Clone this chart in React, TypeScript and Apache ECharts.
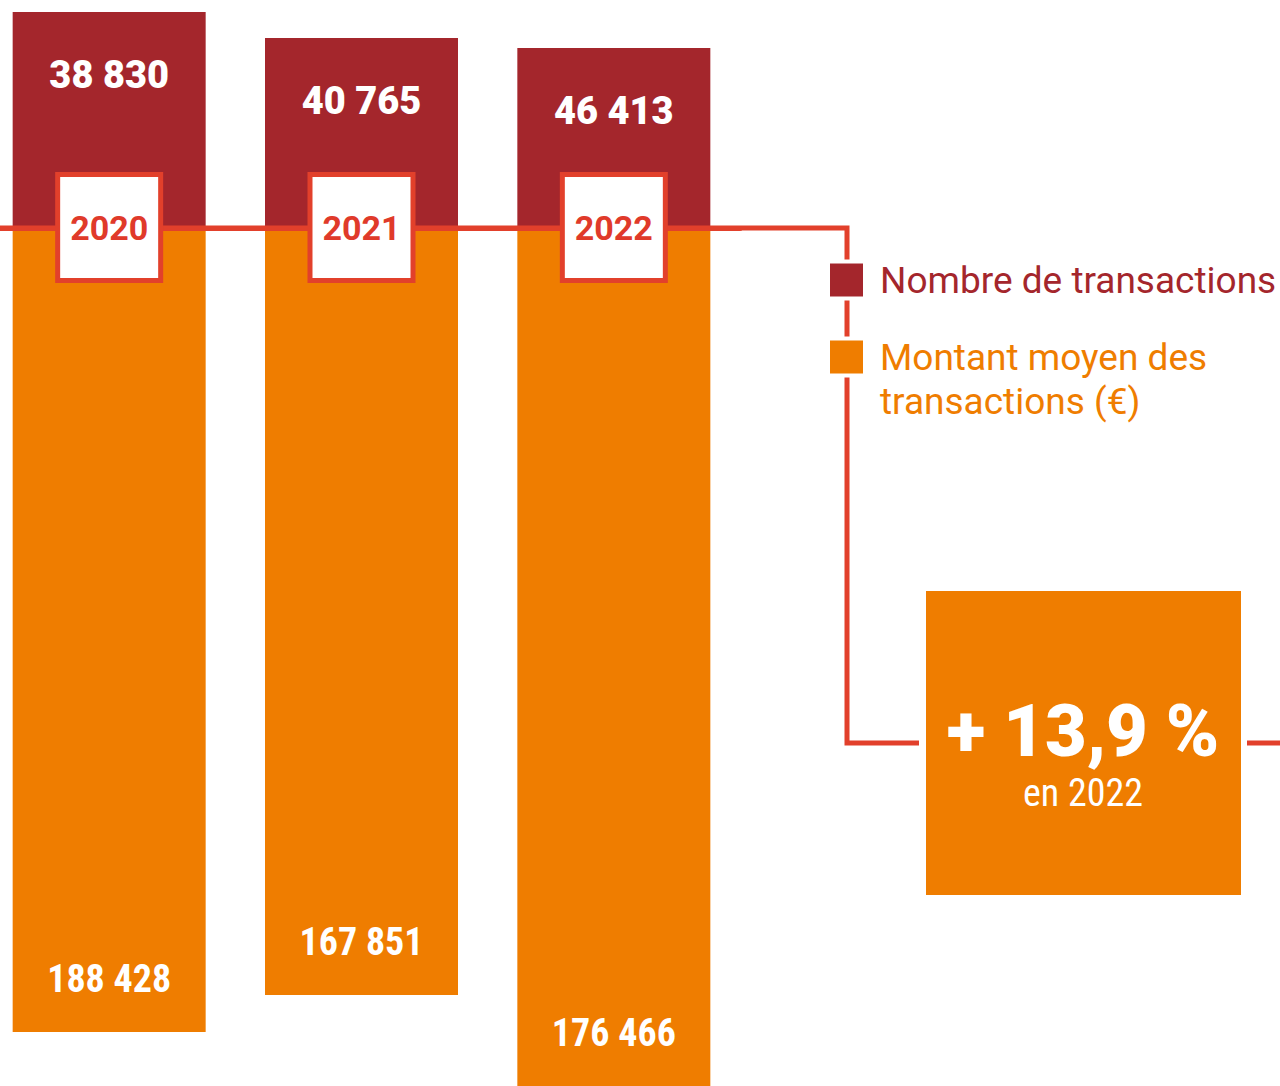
import React, { useEffect, useRef } from "react";
import * as echarts from "echarts";

// Years (categories)
const years = ["2020", "2021", "2022"];
// Values printed on the bars
const transactionCounts = [38830, 40765, 46413];
const averageAmounts = [188428, 167851, 176466];
// Visual bar lengths as drawn in the infographic (arbitrary units, upward / downward)
const countBarLength = [216, 190, 180];
const amountBarLength = [-804, -767, -862];
// Series names (legend)
const countName = "Nombre de transactions";
const amountName = "Montant moyen des transactions (€)";
// Highlight callout
const highlightValue = "+ 13,9 %";
const highlightCaption = "en 2022";

const DARK_RED = "#a4262c";
const ORANGE = "#ef7d00";
const LINE_RED = "#e2402b";
const CONDENSED = "'Roboto Condensed', Roboto";

const fmt = (v: number) => String(v).replace(/\B(?=(\d{3})+(?!\d))/g, " ");

export default function App() {
  const ref = useRef<HTMLDivElement>(null);
  useEffect(() => {
    if (!ref.current) return;
    const chart = echarts.init(ref.current, null, { renderer: "svg" });
    const legendText = { fontFamily: "Roboto", fontSize: 37, lineHeight: 44 };
    chart.setOption({
      animation: false,
      grid: [
        { left: -17, top: 0, width: 757, height: 228, outerBoundsMode: "none", containLabel: false },
        { left: -17, top: 228, width: 757, height: 858, outerBoundsMode: "none", containLabel: false },
      ],
      xAxis: [
        {
          type: "category",
          gridIndex: 0,
          data: years,
          z: 10,
          axisLine: { show: true, lineStyle: { color: LINE_RED, width: 5 } },
          axisTick: { show: false },
          splitLine: { show: false },
          axisLabel: {
            interval: 0,
            margin: -51,
            color: "#e03a2a",
            fontSize: 34,
            fontWeight: "bold",
            fontFamily: "Roboto",
            backgroundColor: "#fff",
            borderColor: LINE_RED,
            borderWidth: 5,
            width: 98,
            height: 101,
            lineHeight: 101,
            align: "center",
          },
        },
        { type: "category", gridIndex: 1, data: years, show: false },
      ],
      yAxis: [
        { type: "value", gridIndex: 0, min: 0, max: 228, show: false },
        { type: "value", gridIndex: 1, min: -858, max: 0, show: false },
      ],
      legend: {
        orient: "vertical",
        left: 826,
        top: 258,
        padding: 0,
        z: 8,
        selectedMode: false,
        itemWidth: 37,
        itemHeight: 37,
        itemGap: -11,
        icon: "rect",
        itemStyle: { borderColor: "#fff", borderWidth: 4 },
        textStyle: {
          ...legendText,
          rich: {
            s: { width: 10, lineHeight: 44, fontSize: 37 },
            n: { ...legendText, color: DARK_RED },
            m: { ...legendText, color: ORANGE },
          },
        },
        data: [{ name: countName }, { name: amountName }],
        formatter: (n: string) =>
          n === amountName
            ? "{s|}{m|}\n{s|}{m|Montant moyen des}\n{s|}{m|transactions (€)}"
            : "{s|}{n|" + n + "}",
      },
      graphic: [
        {
          type: "polyline",
          z: 3,
          shape: { points: [[0, 228], [847, 228], [847, 743], [919, 743]] },
          style: { stroke: LINE_RED, lineWidth: 5, fill: "none" },
        },
        {
          type: "line",
          z: 3,
          shape: { x1: 1247, y1: 743, x2: 1280, y2: 743 },
          style: { stroke: LINE_RED, lineWidth: 5 },
        },
        {
          type: "rect",
          z: 4,
          shape: { x: 926, y: 591, width: 315, height: 304 },
          style: { fill: ORANGE },
        },
        {
          type: "text",
          z: 5,
          x: 1083,
          y: 767,
          style: {
            text: highlightValue,
            fill: "#fff",
            font: "900 72px Roboto",
            textAlign: "center",
            textVerticalAlign: "bottom",
          },
        },
        {
          type: "text",
          z: 5,
          x: 1083,
          y: 812,
          style: {
            text: highlightCaption,
            fill: "#fff",
            font: "38px " + CONDENSED,
            textAlign: "center",
            textVerticalAlign: "bottom",
          },
        },
      ],
      series: [
        {
          name: countName,
          type: "bar",
          xAxisIndex: 0,
          yAxisIndex: 0,
          data: countBarLength,
          barWidth: 193,
          itemStyle: { color: DARK_RED },
          label: {
            show: true,
            position: "insideTop",
            distance: 44,
            color: "#fff",
            fontSize: 38,
            fontWeight: 900,
            fontFamily: "Roboto",
            formatter: (p: any) => fmt(transactionCounts[p.dataIndex]),
          },
        },
        {
          name: amountName,
          type: "bar",
          xAxisIndex: 1,
          yAxisIndex: 1,
          data: amountBarLength,
          barWidth: 193,
          itemStyle: { color: ORANGE },
          label: {
            show: true,
            position: "insideBottom",
            distance: 34,
            color: "#fff",
            fontSize: 38,
            fontWeight: "bold",
            fontFamily: CONDENSED,
            formatter: (p: any) => fmt(averageAmounts[p.dataIndex]),
          },
        },
      ],
    });
    return () => chart.dispose();
  }, []);
  return (
    <div
      ref={ref}
      style={{ position: "fixed", left: 0, top: 0, width: 1280, height: 1086, background: "#fff" }}
    />
  );
}
